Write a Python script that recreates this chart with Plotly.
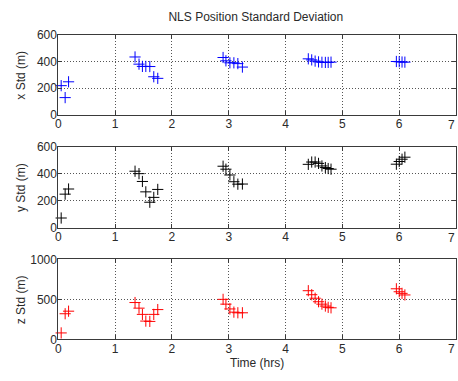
import plotly.graph_objects as go
from plotly.subplots import make_subplots

# Time of each NLS fix (hours), grouped by pass
time_hrs = [
    0.05, 0.12, 0.18,
    1.35, 1.42, 1.48, 1.54, 1.61, 1.68, 1.75,
    2.90, 2.95, 3.02, 3.09, 3.16, 3.24,
    4.40, 4.46, 4.52, 4.58, 4.64, 4.70, 4.75, 4.80,
    5.95, 6.00, 6.05, 6.10,
]

# Position standard deviation per axis (m)
x_std = [
    218, 128, 247,
    434, 380, 363, 363, 362, 285, 273,
    430, 405, 390, 390, 384, 358,
    420, 412, 403, 397, 394, 393, 393, 395,
    400, 398, 396, 395,
]
y_std = [
    71, 248, 286,
    418, 400, 342, 265, 188, 224, 283,
    455, 433, 390, 340, 322, 323,
    469, 486, 486, 476, 457, 445, 438, 433,
    470, 490, 507, 522,
]
z_std = [
    80, 320, 352,
    460, 390, 312, 228, 224, 312, 372,
    500, 440, 380, 340, 332, 332,
    608, 558, 514, 470, 440, 416, 400, 394,
    632, 595, 575, 555,
]

panels = [
    ("x Std (m)", x_std, "#0000ff", [0, 600], [0, 200, 400, 600]),
    ("y Std (m)", y_std, "#000000", [0, 600], [0, 200, 400, 600]),
    ("z Std (m)", z_std, "#ff0000", [0, 1000], [0, 500, 1000]),
]

x_ticks = [0, 1, 2, 3, 4, 5, 6]

fig = make_subplots(rows=3, cols=1)

W, H = 458, 381
x_dom = [55.7 / W, 456 / W]
y_doms = [
    [1 - 111.7 / H, 1 - 29 / H],
    [1 - 229 / H, 1 - 145 / H],
    [1 - 345 / H, 1 - 262 / H],
]

font_family = "Liberation Sans, Arial, sans-serif"
text_color = "#2a2a2a"
label_font = dict(family=font_family, size=12, color=text_color)

for i, (label, vals, color, yr, yt) in enumerate(panels):
    row = i + 1
    fig.add_trace(
        go.Scatter(
            x=time_hrs, y=vals, mode="markers",
            marker=dict(symbol="cross-thin", size=8,
                        line=dict(color=color, width=1), color=color),
            showlegend=False, cliponaxis=False,
        ),
        row=row, col=1,
    )
    axis_common = dict(
        showline=True, mirror="ticks", linecolor="#3a3a3a", linewidth=1,
        ticks="inside", ticklen=4, tickcolor="#3a3a3a",
        showgrid=True, gridcolor="#555555", griddash="1px,2px", gridwidth=1,
        zeroline=False, tickfont=label_font,
    )
    fig.update_xaxes(range=[0, 7], tickvals=x_ticks, domain=x_dom,
                     ticklabelstandoff=-2,
                     **axis_common, row=row, col=1)
    fig.update_yaxes(range=yr, tickvals=yt, domain=y_doms[i],
                     ticklabelstandoff=-2,
                     **axis_common, row=row, col=1)
    xa = "x" if row == 1 else f"x{row}"
    ya = "y" if row == 1 else f"y{row}"
    # hour 7 label on the right border, kept inside the page
    fig.add_annotation(x=7, y=yr[0], xref=xa, yref=ya, text="7", showarrow=False,
                       xanchor="right", yanchor="top", xshift=1, yshift=-1,
                       font=label_font)
    # vertical axis title
    fig.add_annotation(x=18 / W, y=sum(y_doms[i]) / 2, xref="paper", yref="paper",
                       text=label, textangle=-90, showarrow=False,
                       xanchor="center", yanchor="middle", font=label_font)

fig.update_xaxes(title=dict(text="Time (hrs)", standoff=2, font=label_font),
                 row=3, col=1)

fig.update_layout(
    width=W, height=H,
    margin=dict(l=0, r=0, t=0, b=0),
    paper_bgcolor="white", plot_bgcolor="white",
    title=dict(text="NLS Position Standard Deviation", x=(55.7 + 456) / 2 / W,
               xanchor="center", y=1 - 17 / H, yanchor="middle",
               font=label_font),
)

fig.write_html("out.html")
